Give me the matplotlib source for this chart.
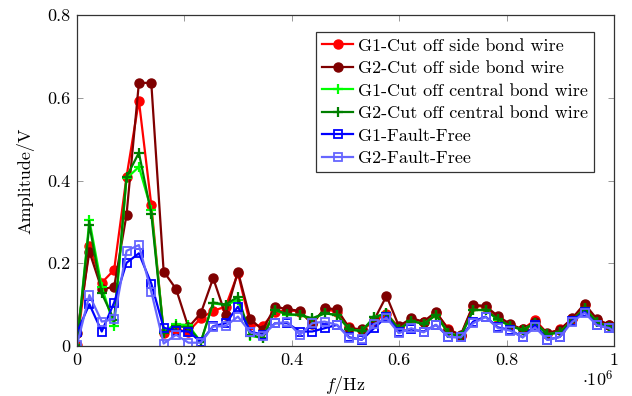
import numpy as np
import matplotlib
matplotlib.use("Agg")
import matplotlib.pyplot as plt
from matplotlib.ticker import FuncFormatter

plt.rcParams['font.family'] = ['cmr10', 'DejaVu Serif']
plt.rcParams['mathtext.fontset'] = 'cm'
plt.rcParams['axes.unicode_minus'] = False
plt.rcParams['axes.formatter.use_mathtext'] = True

# frequency bins (Hz), last one falls just outside the axis
freq_step = 23054
freq = np.arange(45) * freq_step

g1_side = [0.003, 0.242, 0.153, 0.184, 0.409, 0.593, 0.341, 0.032, 0.039, 0.035,
           0.067, 0.085, 0.095, 0.176, 0.051, 0.049, 0.083, 0.087, 0.083, 0.055,
           0.089, 0.083, 0.045, 0.038, 0.060, 0.078, 0.045, 0.063, 0.057, 0.080,
           0.042, 0.025, 0.097, 0.095, 0.068, 0.050, 0.040, 0.063, 0.030, 0.040,
           0.065, 0.100, 0.062, 0.050, 0.030]
g2_side = [0.032, 0.228, 0.137, 0.143, 0.317, 0.636, 0.636, 0.180, 0.138, 0.045,
           0.079, 0.164, 0.075, 0.180, 0.065, 0.039, 0.095, 0.089, 0.085, 0.053,
           0.091, 0.089, 0.043, 0.040, 0.063, 0.121, 0.048, 0.067, 0.059, 0.083,
           0.039, 0.027, 0.099, 0.097, 0.072, 0.053, 0.040, 0.058, 0.031, 0.039,
           0.067, 0.102, 0.065, 0.051, 0.030]
g1_central = [0.003, 0.304, 0.143, 0.048, 0.405, 0.433, 0.329, 0.035, 0.053, 0.050,
              0.010, 0.103, 0.099, 0.111, 0.025, 0.019, 0.087, 0.075, 0.075, 0.065,
              0.079, 0.075, 0.040, 0.036, 0.070, 0.079, 0.040, 0.061, 0.053, 0.075,
              0.031, 0.023, 0.087, 0.087, 0.063, 0.048, 0.039, 0.055, 0.028, 0.033,
              0.061, 0.091, 0.058, 0.045, 0.025]
g2_central = [0.003, 0.293, 0.127, 0.063, 0.409, 0.467, 0.320, 0.032, 0.048, 0.045,
              0.010, 0.105, 0.100, 0.119, 0.027, 0.019, 0.087, 0.077, 0.075, 0.067,
              0.079, 0.075, 0.040, 0.036, 0.069, 0.079, 0.040, 0.061, 0.053, 0.075,
              0.031, 0.023, 0.087, 0.087, 0.065, 0.048, 0.039, 0.055, 0.028, 0.033,
              0.061, 0.091, 0.058, 0.045, 0.025]
g1_ff = [0.033, 0.101, 0.035, 0.105, 0.201, 0.224, 0.151, 0.044, 0.037, 0.035,
         0.010, 0.048, 0.055, 0.095, 0.035, 0.027, 0.055, 0.055, 0.035, 0.035,
         0.043, 0.051, 0.021, 0.015, 0.043, 0.071, 0.035, 0.040, 0.035, 0.051,
         0.022, 0.021, 0.059, 0.071, 0.045, 0.039, 0.021, 0.051, 0.015, 0.022,
         0.061, 0.083, 0.051, 0.043, 0.020]
g2_ff = [0.003, 0.123, 0.059, 0.065, 0.230, 0.244, 0.131, 0.006, 0.027, 0.008,
         0.008, 0.047, 0.048, 0.071, 0.033, 0.025, 0.055, 0.058, 0.027, 0.055,
         0.059, 0.051, 0.019, 0.016, 0.053, 0.068, 0.031, 0.043, 0.033, 0.051,
         0.022, 0.021, 0.055, 0.070, 0.043, 0.037, 0.021, 0.045, 0.015, 0.022,
         0.058, 0.080, 0.050, 0.043, 0.020]

fs = 13

fig = plt.figure(figsize=(6.32, 3.96), dpi=100)
ax = fig.add_axes([77/632, 1-346/396, 537/632, 331/396])

lw = 1.6
ax.plot(freq, g1_side, color='#ff0000', lw=lw, marker='o', ms=6.5,
        label='G1-Cut off side bond wire')
ax.plot(freq, g2_side, color='#7f0000', lw=lw, marker='o', ms=6.5,
        label='G2-Cut off side bond wire')
ax.plot(freq, g1_central, color='#00ff00', lw=lw, marker='+', ms=7, mew=1.6,
        label='G1-Cut off central bond wire')
ax.plot(freq, g2_central, color='#007f00', lw=lw, marker='+', ms=7, mew=1.6,
        label='G2-Cut off central bond wire')
ax.plot(freq, g1_ff, color='#0000ff', lw=lw, marker='s', ms=5.5, mfc='none', mew=1.3,
        label='G1-Fault-Free')
ax.plot(freq, g2_ff, color='#6666ff', lw=lw, marker='s', ms=5.5, mfc='none', mew=1.3,
        label='G2-Fault-Free')

ax.set_xlim(0, 1e6)
ax.set_ylim(0, 0.8)
ax.set_xticks([0, 2e5, 4e5, 6e5, 8e5, 1e6])
ax.set_yticks([0, 0.2, 0.4, 0.6, 0.8])
ax.xaxis.set_major_formatter(FuncFormatter(lambda v, p: '%g' % (v / 1e6)))
ax.yaxis.set_major_formatter(FuncFormatter(lambda v, p: '%g' % v))
ax.tick_params(direction='in', length=4, width=0.6, color='#888888',
               top=True, right=True, labelsize=fs, pad=5)
for s in ax.spines.values():
    s.set_linewidth(0.9)
    s.set_color('#333333')

ax.set_xlabel('$f$/Hz', fontsize=fs)
ax.xaxis.set_label_coords(0.5, (346 - 374) / 331)
ax.set_ylabel('Amplitude/V', fontsize=fs)
ax.yaxis.set_label_coords((34 - 77) / 537, 0.5)
fig.text(614/632, 1-379/396, r'$\cdot 10^6$', fontsize=fs, ha='right', va='center')

leg = ax.legend(loc='upper right', bbox_to_anchor=(0.9628, 0.9495), fontsize=fs,
                fancybox=False, framealpha=1, edgecolor='#333333',
                borderpad=0.35, labelspacing=0.38, handlelength=1.7,
                handletextpad=0.25, borderaxespad=0)
leg.get_frame().set_linewidth(0.9)

fig.savefig('out.png', dpi=100)
